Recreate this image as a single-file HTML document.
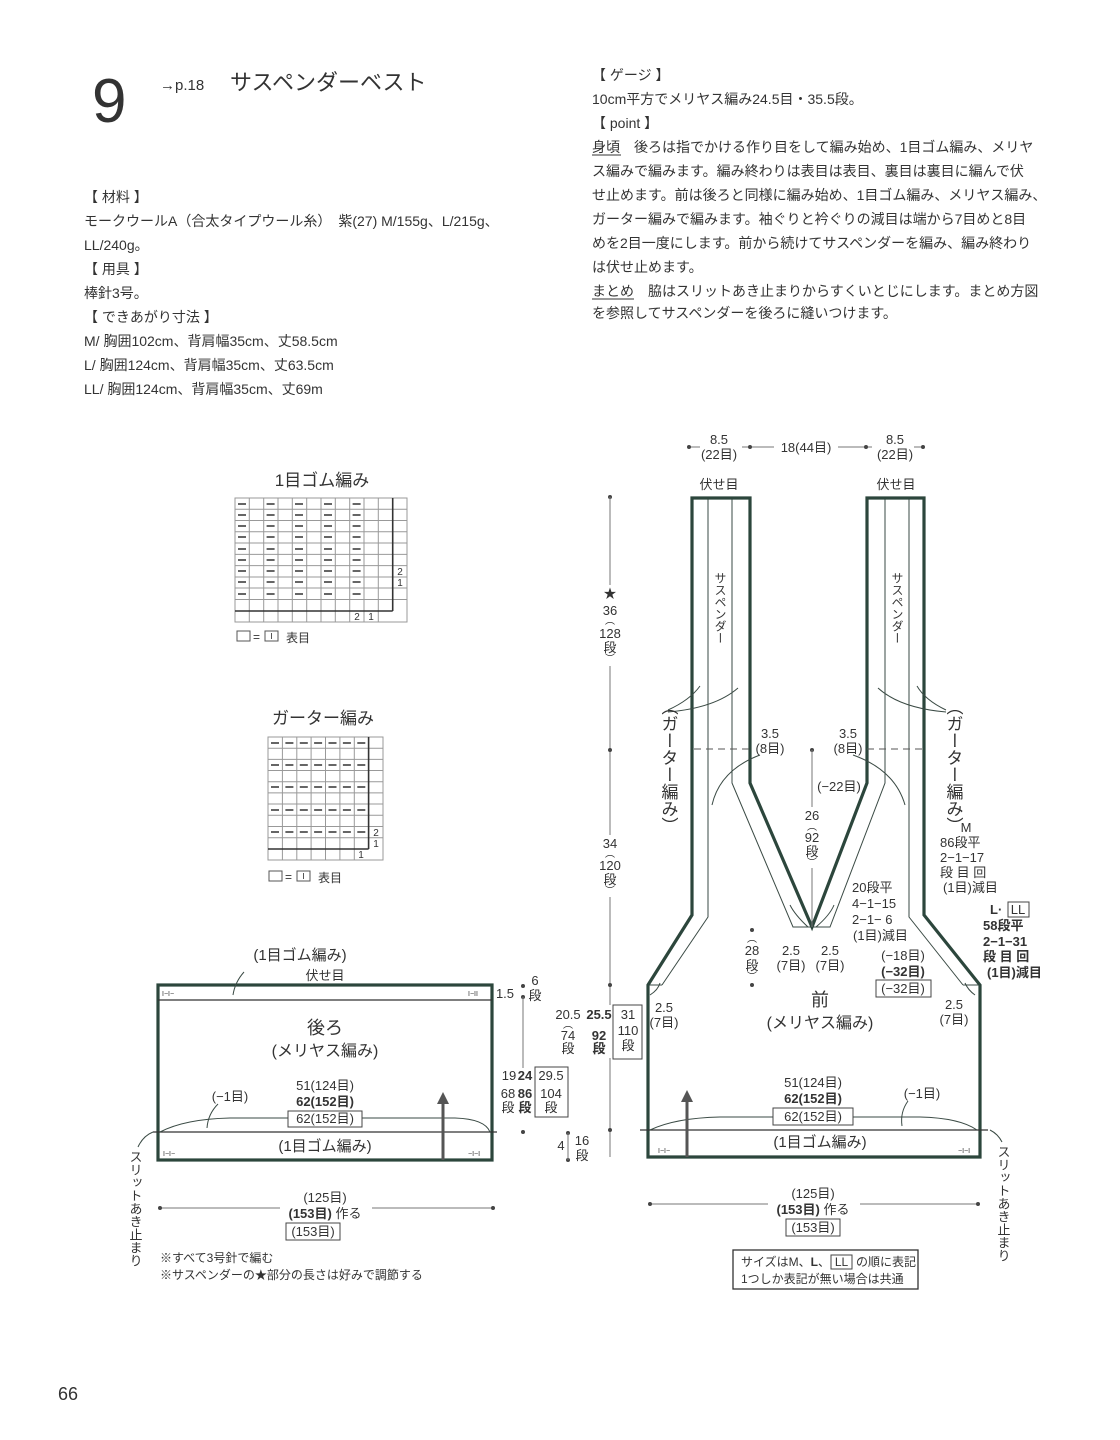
<!DOCTYPE html>
<html><head><meta charset="utf-8"><style>
html,body{margin:0;padding:0;background:#fff}
svg{display:block}
text{font-family:"Liberation Sans","Noto Sans CJK JP",sans-serif;fill:#333}
.t{font-size:14px}
.s{font-size:13px}
.c{text-anchor:middle}
.b{font-weight:bold}
.v{writing-mode:vertical-rl;text-orientation:mixed}
.th{stroke:#2c463c;stroke-width:3.2;fill:none}
.tn{stroke:#3a4a44;stroke-width:1;fill:none}
.g{stroke:#777;stroke-width:1;fill:none}
.d{fill:#444}
</style></head><body>
<svg width="1120" height="1440" viewBox="0 0 1120 1440" xmlns="http://www.w3.org/2000/svg">
<text x="92" y="122" style="font-size:62px;font-weight:300" fill="#333">9</text>
<text x="160" y="90" style="font-size:15px">→p.18</text>
<text x="230" y="90" style="font-size:22px">サスペンダーベスト</text>

<g class="t">
<text x="84" y="202">【 材料 】</text>
<text x="84" y="226">モークウールA（合太タイプウール糸）　紫(27) M/155g、L/215g、</text>
<text x="84" y="250">LL/240g。</text>
<text x="84" y="274">【 用具 】</text>
<text x="84" y="298">棒針3号。</text>
<text x="84" y="322">【 できあがり寸法 】</text>
<text x="84" y="346">M/ 胸囲102cm、背肩幅35cm、丈58.5cm</text>
<text x="84" y="370">L/ 胸囲124cm、背肩幅35cm、丈63.5cm</text>
<text x="84" y="394">LL/ 胸囲124cm、背肩幅35cm、丈69m</text>

<text x="592" y="80">【 ゲージ 】</text>
<text x="592" y="104">10cm平方でメリヤス編み24.5目・35.5段。</text>
<text x="592" y="128">【 point 】</text>
<text x="592" y="152">身頃　後ろは指でかける作り目をして編み始め、1目ゴム編み、メリヤ</text>
<text x="592" y="176">ス編みで編みます。編み終わりは表目は表目、裏目は裏目に編んで伏</text>
<text x="592" y="200">せ止めます。前は後ろと同様に編み始め、1目ゴム編み、メリヤス編み、</text>
<text x="592" y="224">ガーター編みで編みます。袖ぐりと衿ぐりの減目は端から7目めと8目</text>
<text x="592" y="248">めを2目一度にします。前から続けてサスペンダーを編み、編み終わり</text>
<text x="592" y="272">は伏せ止めます。</text>
<text x="592" y="296">まとめ　脇はスリットあき止まりからすくいとじにします。まとめ方図</text>
<text x="592" y="318">を参照してサスペンダーを後ろに縫いつけます。</text>
</g>
<line x1="592" y1="155" x2="621" y2="155" stroke="#333"/>
<line x1="592" y1="299" x2="634" y2="299" stroke="#333"/>

<text x="322" y="486" class="c" style="font-size:17px">1目ゴム編み</text>
<g stroke="#999" stroke-width="1">
<rect x="235" y="498" width="172" height="124" fill="none"/>
<line x1="249.3" y1="498" x2="249.3" y2="622"/><line x1="263.7" y1="498" x2="263.7" y2="622"/><line x1="278" y1="498" x2="278" y2="622"/><line x1="292.3" y1="498" x2="292.3" y2="622"/><line x1="306.7" y1="498" x2="306.7" y2="622"/><line x1="321" y1="498" x2="321" y2="622"/><line x1="335.3" y1="498" x2="335.3" y2="622"/><line x1="349.7" y1="498" x2="349.7" y2="622"/><line x1="364" y1="498" x2="364" y2="622"/><line x1="378.3" y1="498" x2="378.3" y2="622"/>
<line x1="235" y1="509.3" x2="407" y2="509.3"/><line x1="235" y1="520.5" x2="407" y2="520.5"/><line x1="235" y1="531.8" x2="407" y2="531.8"/><line x1="235" y1="543" x2="407" y2="543"/><line x1="235" y1="554.4" x2="407" y2="554.4"/><line x1="235" y1="565.6" x2="407" y2="565.6"/><line x1="235" y1="577" x2="407" y2="577"/><line x1="235" y1="588" x2="407" y2="588"/><line x1="235" y1="599.5" x2="407" y2="599.5"/>
</g>
<line x1="392.7" y1="498" x2="392.7" y2="611" stroke="#333" stroke-width="1.6"/>
<line x1="235" y1="611" x2="392.7" y2="611" stroke="#333" stroke-width="1.6"/>
<g stroke="#333" stroke-width="1.5">
<path d="M238 504h8M266.6 504h8M295 504h8M324 504h8M352.6 504h8 M238 515h8M266.6 515h8M295 515h8M324 515h8M352.6 515h8 M238 526h8M266.6 526h8M295 526h8M324 526h8M352.6 526h8 M238 537h8M266.6 537h8M295 537h8M324 537h8M352.6 537h8 M238 549h8M266.6 549h8M295 549h8M324 549h8M352.6 549h8 M238 560h8M266.6 560h8M295 560h8M324 560h8M352.6 560h8 M238 571h8M266.6 571h8M295 571h8M324 571h8M352.6 571h8 M238 582h8M266.6 582h8M295 582h8M324 582h8M352.6 582h8 M238 594h8M266.6 594h8M295 594h8M324 594h8M352.6 594h8"/>
</g>
<text x="400" y="575" class="c" style="font-size:10px">2</text>
<text x="400" y="586" class="c" style="font-size:10px">1</text>
<text x="357" y="620" class="c" style="font-size:10px">2</text>
<text x="371" y="620" class="c" style="font-size:10px">1</text>
<rect x="237" y="631" width="13" height="10" fill="none" stroke="#555"/>
<text x="253" y="641" style="font-size:12px">=</text>
<rect x="265" y="631" width="13" height="10" fill="none" stroke="#555"/>
<line x1="271.5" y1="633" x2="271.5" y2="639" stroke="#555"/>
<text x="286" y="642" style="font-size:12px">表目</text>

<text x="323" y="724" class="c" style="font-size:17px">ガーター編み</text>
<g stroke="#999" stroke-width="1">
<rect x="268" y="737" width="115" height="123" fill="none"/>
<line x1="282.4" y1="737" x2="282.4" y2="860"/><line x1="296.8" y1="737" x2="296.8" y2="860"/><line x1="311.1" y1="737" x2="311.1" y2="860"/><line x1="325.5" y1="737" x2="325.5" y2="860"/><line x1="339.9" y1="737" x2="339.9" y2="860"/><line x1="354.3" y1="737" x2="354.3" y2="860"/>
<line x1="268" y1="748.2" x2="383" y2="748.2"/><line x1="268" y1="759.4" x2="383" y2="759.4"/><line x1="268" y1="770.5" x2="383" y2="770.5"/><line x1="268" y1="781.7" x2="383" y2="781.7"/><line x1="268" y1="792.9" x2="383" y2="792.9"/><line x1="268" y1="804" x2="383" y2="804"/><line x1="268" y1="815.3" x2="383" y2="815.3"/><line x1="268" y1="826.5" x2="383" y2="826.5"/><line x1="268" y1="837.7" x2="383" y2="837.7"/>
</g>
<line x1="368.6" y1="737" x2="368.6" y2="849" stroke="#333" stroke-width="1.6"/>
<line x1="268" y1="849" x2="368.6" y2="849" stroke="#333" stroke-width="1.6"/>
<g stroke="#333" stroke-width="1.5">
<path d="M271 743h8M285.4 743h8M299.8 743h8M314.1 743h8M328.5 743h8M342.9 743h8M357.3 743h8 M271 765h8M285.4 765h8M299.8 765h8M314.1 765h8M328.5 765h8M342.9 765h8M357.3 765h8 M271 787h8M285.4 787h8M299.8 787h8M314.1 787h8M328.5 787h8M342.9 787h8M357.3 787h8 M271 810h8M285.4 810h8M299.8 810h8M314.1 810h8M328.5 810h8M342.9 810h8M357.3 810h8 M271 832h8M285.4 832h8M299.8 832h8M314.1 832h8M328.5 832h8M342.9 832h8M357.3 832h8"/>
</g>
<text x="376" y="836" class="c" style="font-size:10px">2</text>
<text x="376" y="847" class="c" style="font-size:10px">1</text>
<text x="361" y="858" class="c" style="font-size:10px">1</text>
<rect x="269" y="871" width="13" height="10" fill="none" stroke="#555"/>
<text x="285" y="881" style="font-size:12px">=</text>
<rect x="297" y="871" width="13" height="10" fill="none" stroke="#555"/>
<line x1="303.5" y1="873" x2="303.5" y2="879" stroke="#555"/>
<text x="318" y="882" style="font-size:12px">表目</text>

<g class="s">
<line x1="689" y1="447" x2="923" y2="447" class="g"/>
<rect x="700" y="437" width="42" height="26" fill="#fff"/>
<rect x="774" y="437" width="64" height="20" fill="#fff"/>
<rect x="872" y="437" width="42" height="26" fill="#fff"/>
<circle cx="689" cy="447" r="2" class="d"/><circle cx="750" cy="447" r="2" class="d"/><circle cx="866" cy="447" r="2" class="d"/><circle cx="923" cy="447" r="2" class="d"/>
<text x="719" y="444" class="c">8.5</text><text x="719" y="459" class="c">(22目)</text>
<text x="806" y="452" class="c">18(44目)</text>
<text x="895" y="444" class="c">8.5</text><text x="895" y="459" class="c">(22目)</text>
<text x="719" y="489" class="c">伏せ目</text>
<text x="896" y="489" class="c">伏せ目</text>
</g>
<path class="tn" d="M708 498V917L662 985 M732 498V783L793 927H830L885 783V498 M909 498V917L963 985 M647 985H662 M963 985H979"/>
<path class="th" d="M692 498H750V783L812 927L867 783V498H924V915L980 985V1157H648V985L692 915Z"/>
<path d="M694 749H750 M867 749H924" stroke="#555" stroke-dasharray="7,5" fill="none"/>
<line x1="640" y1="1130" x2="988" y2="1130" stroke="#333" stroke-width="1.2"/>
<path class="tn" d="M650 1130Q675 1118 720 1117H773 M853 1117H920Q960 1118 977 1130"/>
<rect x="773" y="1108" width="80" height="17" fill="none" stroke="#444"/>
<path class="tn" d="M668 710Q690 700 700 686 M668 712Q715 708 738 688 M946 710Q925 700 917 686 M946 712Q900 708 878 688 M760 755Q720 770 712 805 M853 755Q895 770 905 805 M808 927Q795 915 790 905 M816 927Q830 915 834 905 M650 995Q658 990 660 983 M975 995Q968 990 965 983"/>
<line x1="687" y1="1157" x2="687" y2="1100" stroke="#555" stroke-width="3"/>
<path d="M681 1102L687 1090L693 1102Z" fill="#555"/>
<text x="720" y="572" class="v" style="font-size:12px">サスペンダー</text>
<text x="897" y="572" class="v" style="font-size:12px">サスペンダー</text>
<text x="668" y="698" class="v" style="font-size:17px">（ガーター編み）</text>
<text x="953" y="698" class="v" style="font-size:17px">（ガーター編み）</text>
<g class="s">
<text x="770" y="738" class="c">3.5</text><text x="770" y="753" class="c">(8目)</text>
<text x="848" y="738" class="c">3.5</text><text x="848" y="753" class="c">(8目)</text>
<text x="839" y="791" class="c">(−22目)</text>
<circle cx="812" cy="750" r="2" class="d"/>
<line x1="812" y1="750" x2="812" y2="807" class="g"/>
<line x1="812" y1="868" x2="812" y2="927" class="g"/>
<text x="812" y="820" class="c">26</text>
<text x="812" y="830" class="c" style="font-size:10px">︵</text>
<text x="812" y="842" class="c">92</text>
<text x="812" y="856" class="c">段</text>
<text x="812" y="866" class="c" style="font-size:10px">︶</text>
<text x="852" y="892">20段平</text><text x="852" y="908">4−1−15</text><text x="852" y="924">2−1− 6</text><text x="853" y="940">(1目)減目</text>
<text x="791" y="955" class="c">2.5</text><text x="791" y="970" class="c">(7目)</text>
<text x="830" y="955" class="c">2.5</text><text x="830" y="970" class="c">(7目)</text>
<text x="903" y="960" class="c">(−18目)</text>
<text x="903" y="976" class="c b">(−32目)</text>
<text x="903" y="993" class="c">(−32目)</text>
<rect x="876" y="980" width="55" height="17" fill="none" stroke="#444"/>
<text x="966" y="832" class="c">M</text>
<text x="940" y="847">86段平</text><text x="940" y="862">2−1−17</text><text x="940" y="877">段 目 回</text><text x="943" y="892">(1目)減目</text>
<text x="990" y="914" class="b">L·</text>
<rect x="1008" y="902" width="21" height="15" fill="none" stroke="#444"/>
<text x="1018" y="914" class="c">LL</text>
<text x="983" y="930" class="b">58段平</text><text x="983" y="946" class="b">2−1−31</text><text x="983" y="961" class="b">段 目 回</text><text x="987" y="977" class="b">(1目)減目</text>
<circle cx="752" cy="930" r="2" class="d"/><circle cx="752" cy="985" r="2" class="d"/>
<text x="752" y="942" class="c" style="font-size:10px">︵</text>
<text x="752" y="955" class="c">28</text><text x="752" y="970" class="c">段</text>
<text x="752" y="980" class="c" style="font-size:10px">︶</text>
<text x="664" y="1012" class="c">2.5</text><text x="664" y="1027" class="c">(7目)</text>
<text x="954" y="1009" class="c">2.5</text><text x="954" y="1024" class="c">(7目)</text>
</g>
<text x="820" y="1006" class="c" style="font-size:18px">前</text>
<text x="820" y="1028" class="c" style="font-size:16px">(メリヤス編み)</text>
<g class="s">
<text x="813" y="1087" class="c">51(124目)</text>
<text x="813" y="1103" class="c b">62(152目)</text>
<text x="813" y="1121" class="c">62(152目)</text>
<text x="922" y="1098" class="c">(−1目)</text>
</g>
<path class="tn" d="M908 1101Q900 1112 902 1126"/>
<text x="820" y="1147" class="c" style="font-size:15px">(1目ゴム編み)</text>
<text x="658" y="1153" style="font-size:7px">I−I−</text>
<text x="958" y="1153" style="font-size:7px">−I−I</text>
<g class="s">
<line x1="650" y1="1204" x2="978" y2="1204" class="g"/>
<rect x="768" y="1195" width="92" height="18" fill="#fff"/>
<circle cx="650" cy="1204" r="2" class="d"/><circle cx="978" cy="1204" r="2" class="d"/>
<text x="813" y="1198" class="c">(125目)</text>
<text x="813" y="1214" class="c"><tspan class="b">(153目)</tspan> 作る</text>
<text x="813" y="1232" class="c">(153目)</text>
<rect x="786" y="1219" width="54" height="17" fill="none" stroke="#444"/>
</g>
<rect x="733" y="1250" width="185" height="39" fill="none" stroke="#333" stroke-width="1.3"/>
<text x="741" y="1266" style="font-size:12px">サイズはM、<tspan class="b">L</tspan>、</text>
<rect x="831" y="1255" width="21" height="14" fill="none" stroke="#444"/>
<text x="841.5" y="1266" class="c" style="font-size:12px">LL</text>
<text x="856" y="1266" style="font-size:12px">の順に表記</text>
<text x="741" y="1283" style="font-size:12px">1つしか表記が無い場合は共通</text>
<text x="1003" y="1145" class="v" style="font-size:13px">スリットあき止まり</text>
<path class="tn" d="M990 1130Q998 1134 1002 1142"/>
<text x="135" y="1150" class="v" style="font-size:13px">スリットあき止まり</text>
<path class="tn" d="M153 1132Q143 1136 138 1147"/>

<rect x="158" y="985" width="334" height="175" class="th"/>
<line x1="158" y1="1000" x2="492" y2="1000" stroke="#333" stroke-width="1.2"/>
<line x1="153" y1="1132" x2="497" y2="1132" stroke="#333" stroke-width="1.2"/>
<path class="tn" d="M160 1132Q185 1119 230 1118H288 M362 1118H455Q485 1119 490 1132"/>
<rect x="288" y="1111" width="74" height="16" fill="none" stroke="#444"/>
<line x1="443" y1="1160" x2="443" y2="1102" stroke="#555" stroke-width="3"/>
<path d="M437 1104L443 1092L449 1104Z" fill="#555"/>
<text x="300" y="960" class="c" style="font-size:15px">(1目ゴム編み)</text>
<path class="tn" d="M244 972Q235 982 233 995"/>
<text x="325" y="980" class="c s">伏せ目</text>
<text x="162" y="996" style="font-size:7px">I−I−</text>
<text x="468" y="996" style="font-size:7px">I−II</text>
<text x="325" y="1034" class="c" style="font-size:18px">後ろ</text>
<text x="325" y="1056" class="c" style="font-size:16px">(メリヤス編み)</text>
<g class="s">
<text x="325" y="1090" class="c">51(124目)</text>
<text x="325" y="1106" class="c b">62(152目)</text>
<text x="325" y="1123" class="c">62(152目)</text>
<text x="230" y="1101" class="c">(−1目)</text>
</g>
<path class="tn" d="M218 1104Q208 1114 207 1128"/>
<text x="325" y="1151" class="c" style="font-size:15px">(1目ゴム編み)</text>
<text x="163" y="1156" style="font-size:7px">I−I−</text>
<text x="468" y="1156" style="font-size:7px">−I−I</text>
<g class="s">
<line x1="160" y1="1208" x2="493" y2="1208" class="g"/>
<rect x="280" y="1199" width="92" height="18" fill="#fff"/>
<circle cx="160" cy="1208" r="2" class="d"/><circle cx="493" cy="1208" r="2" class="d"/>
<text x="325" y="1202" class="c">(125目)</text>
<text x="325" y="1218" class="c"><tspan class="b">(153目)</tspan> 作る</text>
<text x="313" y="1236" class="c">(153目)</text>
<rect x="286" y="1223" width="54" height="17" fill="none" stroke="#444"/>
</g>
<text x="160" y="1262" style="font-size:12px">※すべて3号針で編む</text>
<text x="160" y="1279" style="font-size:12px">※サスペンダーの★部分の長さは好みで調節する</text>

<g class="s">
<circle cx="610" cy="497" r="2" class="d"/>
<line x1="610" y1="497" x2="610" y2="585" class="g"/>
<text x="610" y="598" class="c">★</text>
<text x="610" y="615" class="c">36</text>
<text x="610" y="624" class="c" style="font-size:10px">︵</text>
<text x="610" y="638" class="c">128</text>
<text x="610" y="652" class="c">段</text>
<text x="610" y="662" class="c" style="font-size:10px">︶</text>
<line x1="610" y1="666" x2="610" y2="835" class="g"/>
<circle cx="610" cy="750" r="2" class="d"/>
<text x="610" y="848" class="c">34</text>
<text x="610" y="857" class="c" style="font-size:10px">︵</text>
<text x="610" y="870" class="c">120</text>
<text x="610" y="884" class="c">段</text>
<text x="610" y="894" class="c" style="font-size:10px">︶</text>
<line x1="610" y1="897" x2="610" y2="1005" class="g"/>
<line x1="610" y1="1058" x2="610" y2="1157" class="g"/>
<circle cx="610" cy="985" r="2" class="d"/><circle cx="610" cy="1130" r="2" class="d"/>
<rect x="613" y="1005" width="29" height="54" fill="none" stroke="#444"/>
<text x="628" y="1019" class="c">31</text>
<text x="628" y="1035" class="c">110</text>
<text x="628" y="1050" class="c">段</text>
<text x="568" y="1019" class="c">20.5</text>
<text x="568" y="1028" class="c" style="font-size:10px">︵</text>
<text x="568" y="1040" class="c">74</text>
<text x="568" y="1053" class="c">段</text>
<text x="599" y="1019" class="c b">25.5</text>
<text x="599" y="1040" class="c b">92</text>
<text x="599" y="1053" class="c b">段</text>
<text x="505" y="998" class="c">1.5</text>
<circle cx="523" cy="986" r="2" class="d"/><circle cx="523" cy="997" r="2" class="d"/>
<line x1="523" y1="997" x2="523" y2="1068" class="g"/>
<text x="535" y="985" class="c">6</text><text x="535" y="1000" class="c">段</text>
<text x="509" y="1080" class="c">19</text>
<text x="525" y="1080" class="c b">24</text>
<rect x="535" y="1067" width="33" height="50" fill="none" stroke="#444"/>
<text x="551" y="1080" class="c">29.5</text>
<text x="508" y="1098" class="c">68</text><text x="508" y="1112" class="c">段</text>
<text x="525" y="1098" class="c b">86</text><text x="525" y="1112" class="c b">段</text>
<text x="551" y="1098" class="c">104</text><text x="551" y="1112" class="c">段</text>
<circle cx="523" cy="1132" r="2" class="d"/>
<circle cx="568" cy="1133" r="2" class="d"/><circle cx="568" cy="1160" r="2" class="d"/>
<line x1="568" y1="1133" x2="568" y2="1160" class="g"/>
<text x="561" y="1150" class="c">4</text>
<text x="582" y="1145" class="c">16</text><text x="582" y="1160" class="c">段</text>
</g>
<text x="58" y="1400" style="font-size:18px">66</text>
</svg>
</body></html>
